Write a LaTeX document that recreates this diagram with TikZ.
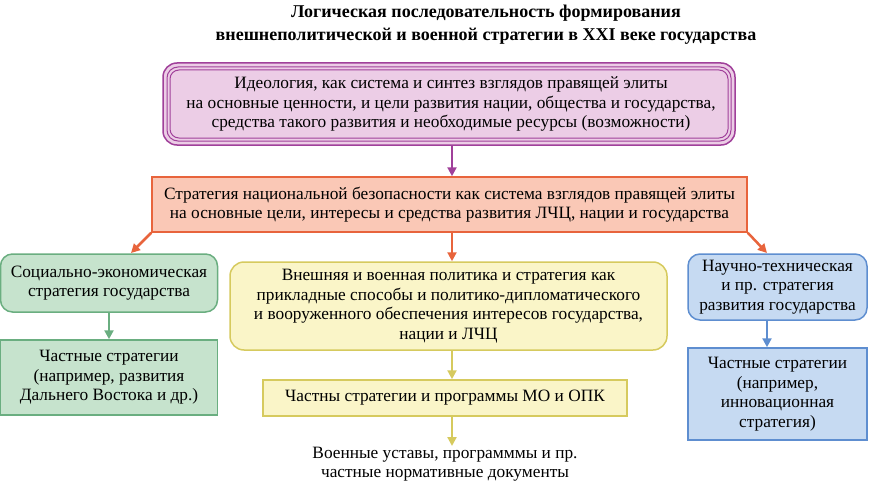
\documentclass[tikz,border=0pt]{standalone}
\usepackage{fontspec}
\setmainfont{Liberation Serif}
\usetikzlibrary{arrows.meta}
\definecolor{pb}{HTML}{A0409A}\definecolor{pf}{HTML}{ECCDE6}
\definecolor{ob}{HTML}{E8643C}\definecolor{of}{HTML}{FAC8B6}
\definecolor{gb}{HTML}{6AAE80}\definecolor{gf}{HTML}{C6E3CD}
\definecolor{yb}{HTML}{D6CA5E}\definecolor{yf}{HTML}{FAF5C8}
\definecolor{bb}{HTML}{5E8ED0}\definecolor{bf}{HTML}{C6DAF2}
\begin{document}
\begin{tikzpicture}[x=1pt,y=-1pt,
 txt/.style={font=\fontsize{17.3}{19.5}\selectfont,align=center,inner sep=0pt},
 arr/.style={-{Triangle[width=9pt,length=9pt]},line width=2.5pt}]
\useasboundingbox (0,0) rectangle (872,484);
\node[font=\bfseries\fontsize{18}{23}\selectfont,align=center] (title) at (486,25) {Логическая последовательность формирования\\внешнеполитической и военной стратегии в XXI веке государства};
% ideology
\draw[pb,line width=1.5pt,fill=pf,rounded corners=14pt] (163,63) rectangle (735,145);
\draw[pb,line width=1pt,rounded corners=11pt] (167,67) rectangle (731,141);
\draw[pb,line width=1pt,rounded corners=9pt] (170,70) rectangle (728,138);
\node[txt] (ideo) at (451,104) {Идеология, как система и синтез взглядов правящей элиты\\на основные ценности, и цели развития нации, общества и государства,\\средства такого развития и необходимые ресурсы (возможности)};
\coordinate (ideoB) at (452,145);
\node[txt,draw=ob,line width=1.5pt,fill=of,minimum width=595pt,minimum height=55pt] (nss) at (449.5,204.5) {Стратегия национальной безопасности как система взглядов правящей элиты\\на основные цели, интересы и средства развития ЛЧЦ, нации и государства};
\draw[arr,pb] (ideoB) -- (nss.north -| ideoB);
% green
\node[txt,draw=gb,line width=1.5pt,fill=gf,rounded corners=12pt,minimum width=217pt,minimum height=58pt] (g1) at (109,283) {Социально-экономическая\\стратегия государства};
\node[txt,draw=gb,line width=1.5pt,fill=gf,minimum width=217pt,minimum height=75pt] (g2) at (109,377.5) {Частные стратегии\\(например, развития\\Дальнего Востока и др.)};
\draw[arr,gb] (g1) -- (g2);
% yellow
\node[txt,draw=yb,line width=1.5pt,fill=yf,rounded corners=14pt,minimum width=437pt,minimum height=88pt] (y1) at (448.5,306) {Внешняя и военная политика и стратегия как\\прикладные способы и политико-дипломатического\\и вооруженного обеспечения интересов государства,\\нации и ЛЧЦ};
\node[txt,draw=yb,line width=1.5pt,fill=yf,minimum width=364pt,minimum height=36pt] (y2) at (445,398) {Частны стратегии и программы МО и ОПК};
\node[txt] (y3) at (445,464) {Военные уставы, программмы и пр.\\частные нормативные документы};
\draw[arr,yb] (y1.south -| 452,0) -- (y2.north -| 452,0);
\draw[arr,yb] (y2.south -| 452,0) -- (452,446);
% blue
\node[txt,draw=bb,line width=1.5pt,fill=bf,rounded corners=12pt,minimum width=179pt,minimum height=66pt] (b1) at (777.5,287) {Научно-техническая\\и пр. стратегия\\развития государства};
\node[txt,draw=bb,line width=1.5pt,fill=bf,minimum width=179pt,minimum height=92pt] (b2) at (777.5,394) {Частные стратегии\\(например,\\инновационная\\стратегия)};
\draw[arr,bb] (b1.south -| 767,0) -- (b2.north -| 767,0);
% orange arrows
\draw[arr,ob] (nss.south west) -- (131,253);
\draw[arr,ob] (nss.south -| 452,0) -- (y1.north -| 452,0);
\draw[arr,ob] (nss.south east) -- (767,253);
\end{tikzpicture}
\end{document}
